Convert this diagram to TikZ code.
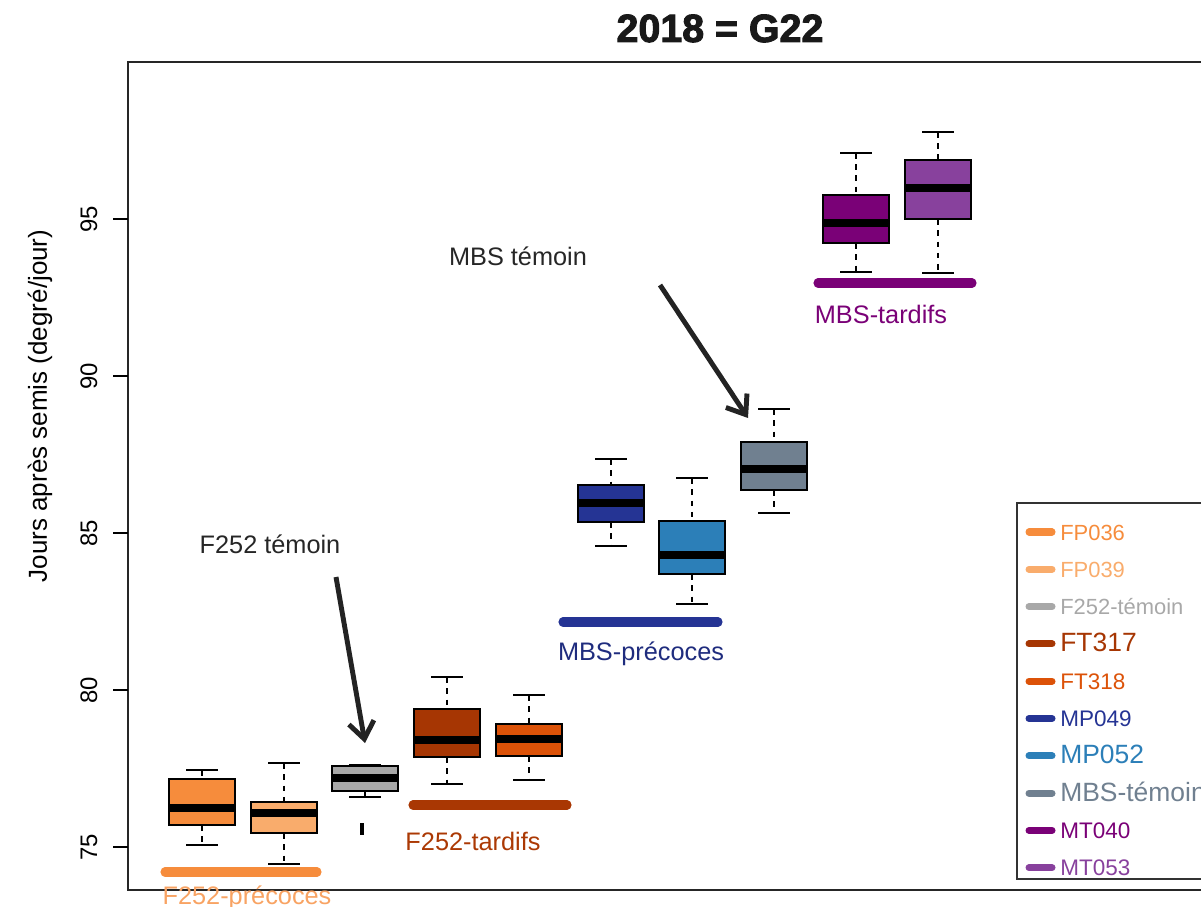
\documentclass[tikz,border=0pt]{standalone}
\usepackage{fontspec}
\setmainfont{Liberation Sans}
\newfontfamily\titrefont{Liberation Sans}[BoldFeatures={FakeBold=2.5}]
\usetikzlibrary{arrows.meta}

\definecolor{FPa}{RGB}{246,140,60}
\definecolor{FPb}{RGB}{249,172,108}
\definecolor{Ftem}{RGB}{168,168,168}
\definecolor{FTa}{RGB}{166,54,3}
\definecolor{FTb}{RGB}{220,82,8}
\definecolor{MPa}{RGB}{37,52,148}
\definecolor{MPb}{RGB}{44,127,184}
\definecolor{Mtem}{RGB}{112,128,144}
\definecolor{MTa}{RGB}{122,1,119}
\definecolor{MTb}{RGB}{136,65,157}
\definecolor{gfonce}{RGB}{35,35,35}

\tikzset{
    cadre/.style={line width=1.4pt, black!85},
    moustache/.style={line width=1pt, dash pattern=on 4pt off 4pt},
    butee/.style={line width=1pt},
    cadreboite/.style={draw=black, line width=1.3pt},
    mediane/.style={line width=5pt},
    groupe/.style={line width=6.5pt, line cap=round},
    legtrait/.style={line width=5pt, line cap=round},
    annot/.style={font=\fontsize{18}{21}\selectfont, text=black!85, anchor=base},
    etiq/.style={font=\fontsize{18}{21}\selectfont, anchor=base},
    pointe/.style={-{Straight Barb[length=12pt,width=18pt]}, line width=3.5pt, gfonce}
}

% x, couleur, butee haut, Q3, mediane, Q1, butee bas
\newcommand{\boite}[7]{%
    \draw[moustache] (#1,#3) -- (#1,#4);
    \draw[moustache] (#1,#6) -- (#1,#7);
    \draw[butee] (#1-16,#3) -- (#1+16,#3);
    \draw[butee] (#1-16,#7) -- (#1+16,#7);
    \filldraw[cadreboite, fill=#2] (#1-33,#4) rectangle (#1+33,#6);
    \draw[mediane] (#1-32.5,#5) -- (#1+32.5,#5);
}

\begin{document}
\begin{tikzpicture}[x=0.025cm, y=-0.025cm]
        \useasboundingbox (0,0) rectangle (1201,906);
        \clip (0,0) rectangle (1201,906);

        % Titre
        \node[font=\fontsize{28}{30}\titrefont\bfseries, anchor=base, text=black!90] (titre) at (720,42) {2018 = G22};

        % Cadre et axe
        \draw[cadre] (1240,62) -- (128,62) -- (128,890) -- (1240,890);
        \foreach \v/\y in {95/219, 90/376, 85/533, 80/690, 75/847} {
            \draw[butee] (113,\y) -- (128,\y);
            \node[rotate=90, font=\fontsize{17}{18}\selectfont] (t\v) at (89,\y) {\v};
        }
        \node[rotate=90, font=\fontsize{18.5}{20}\selectfont] (ytitre) at (40,406) {Jours après semis (degré/jour)};

        % F252 precoces + temoin
        \boite{202}{FPa}{770}{779}{808}{825}{845}
        \boite{284}{FPb}{763}{802}{813}{833}{864}
        \boite{365}{Ftem}{765}{766}{778}{791}{797}
        \draw[line width=2.5pt] (362,823) -- (362,835);

        % F252 tardifs
        \boite{447}{FTa}{677}{709}{740}{757}{784}
        \boite{529}{FTb}{695}{724}{739}{756}{780}

        % MBS precoces + temoin
        \boite{611}{MPa}{459}{485}{503}{522}{546}
        \boite{692}{MPb}{478}{521}{555}{574}{604}
        \boite{774}{Mtem}{409}{442}{469}{490}{513}

        % MBS tardifs
        \boite{856}{MTa}{153}{195}{223}{243}{272}
        \boite{938}{MTb}{132}{160}{188}{219}{273}

        % Groupes
        \coordinate (fpA) at (165,872);  \coordinate (fpB) at (317,872);
        \coordinate (ftA) at (413,805);  \coordinate (ftB) at (567,805);
        \coordinate (mpA) at (563,622);  \coordinate (mpB) at (718,622);
        \coordinate (mtA) at (818,283);  \coordinate (mtB) at (972,283);
        \draw[groupe, FPa] (fpA) -- (fpB);
        \draw[groupe, FTa!95!FTb] (ftA) -- (ftB);
        \draw[groupe, MPa] (mpA) -- (mpB);
        \draw[groupe, MTa] (mtA) -- (mtB);
        \node[etiq, text=FPa!80!white] (fprec) at (247,904) {F252-précoces};
        \node[etiq, text=FTa!90!FTb] (ftard) at (473,850) {F252-tardifs};
        \node[etiq, text=MPa!85!black] (mprec) at (641,660) {MBS-précoces};
        \node[etiq, text=MTa] (mtard) at (881,323) {MBS-tardifs};

        % Temoins
        \node[annot] (ftemoin) at (270,553) {F252 témoin};
        \node[annot] (mtemoin) at (518,265) {MBS témoin};
        \coordinate (fdep) at (336,577);
        \coordinate (fbout) at (365,743);
        \coordinate (mdep) at (660,285);
        \coordinate (mbout) at (748,418);
        \draw[pointe] (fdep) -- (fbout);
        \draw[pointe] (mdep) -- (mbout);

        % Legende
        \draw[line width=1pt, black!80] (1240,503) -- (1017,503) -- (1017,879) -- (1240,879);
        \foreach \lab/\col/\fs [count=\i from 0] in {FP036/FPa/15.6, FP039/FPb/15.6, F252-témoin/Ftem/15.6, FT317/FTa/18.8, FT318/FTb/16, MP049/MPa/16, MP052/MPb/18.8, MBS-témoin/Mtem/18.8, MT040/MTa/16, MT053/MTb/16} {
            \draw[legtrait, \col] (1029,532+37.3*\i) -- (1052,532+37.3*\i);
            \node[anchor=base west, inner sep=0pt, text=\col, font=\fontsize{\fs}{\fs}\selectfont] (leg\i) at (1060,540+37.3*\i) {\lab};
        }

    \end{tikzpicture}
\end{document}
